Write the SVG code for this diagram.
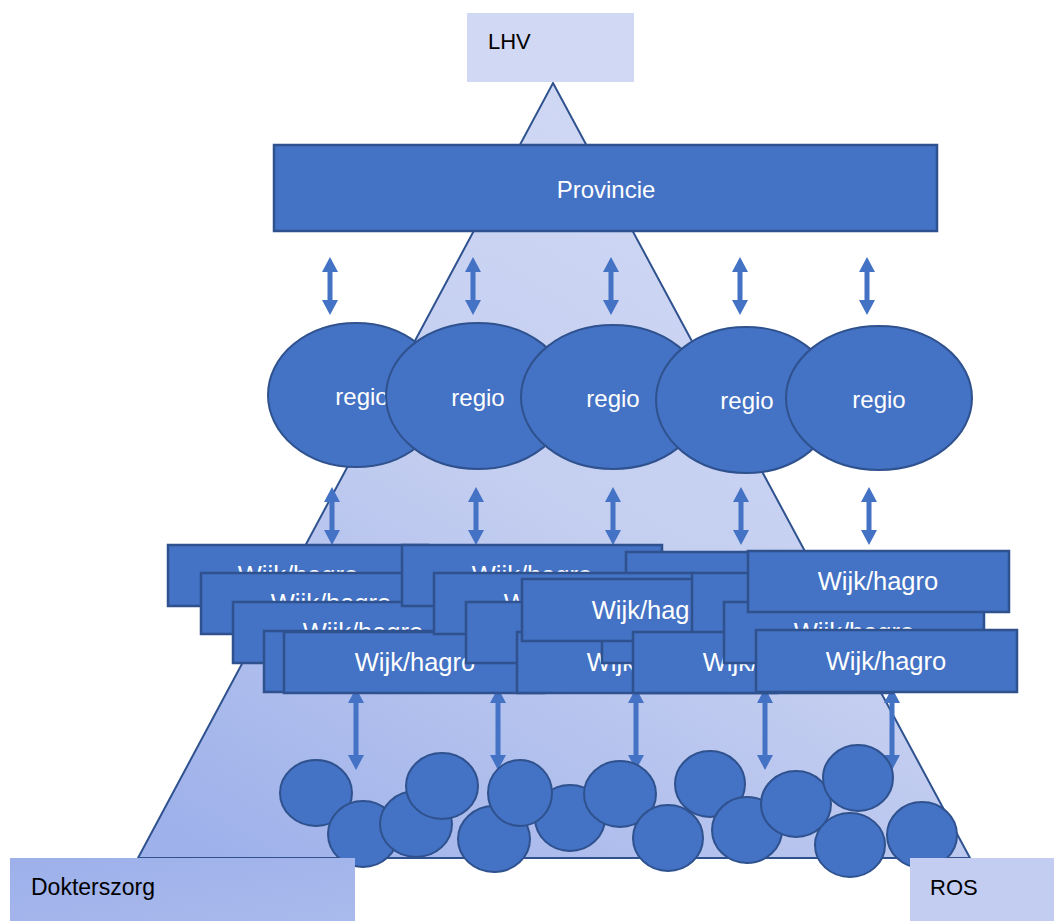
<svg xmlns="http://www.w3.org/2000/svg" width="1054" height="921" viewBox="0 0 1054 921">
<style>
.box{fill:#4472c4;stroke:#2f528f;stroke-width:2.5}
.ell{fill:#4472c4;stroke:#2f528f;stroke-width:2}
.wt{font-family:"Liberation Sans",Arial,sans-serif;font-size:24px;fill:#ffffff;text-anchor:middle}
.wk{font-size:25.5px}
.lt{font-family:"Liberation Sans",Arial,sans-serif;font-size:22px;fill:#000000}
.arr{fill:#4472c4}
</style>
<defs>
<linearGradient id="tri" x1="0.75" y1="0" x2="0.1" y2="1">
<stop offset="0" stop-color="#d2daf4"/>
<stop offset="0.5" stop-color="#c4cef0"/>
<stop offset="1" stop-color="#9eb1ea"/>
</linearGradient>
<linearGradient id="dok" x1="0" y1="0" x2="1" y2="1">
<stop offset="0" stop-color="#9db0ea"/>
<stop offset="1" stop-color="#a9baec"/>
</linearGradient>
<path id="a58" d="M0,0 L8,15 L2.5,15 L2.5,43 L8,43 L0,58 L-8,43 L-2.5,43 L-2.5,15 L-8,15 Z"/>
<path id="a82" d="M0,0 L8,15 L2.5,15 L2.5,67 L8,67 L0,82 L-8,67 L-2.5,67 L-2.5,15 L-8,15 Z"/>
</defs>

<g id="pyramid">
<polygon points="553,83 970,858 138,858" fill="url(#tri)" stroke="#2f528f" stroke-width="2"/>
</g>

<g id="lhv">
<rect x="467" y="13" width="167" height="69" fill="#d0d8f3"/>
<text class="lt" x="488" y="49">LHV</text>
</g>

<g id="provincie">
<rect class="box" x="274" y="145" width="663" height="86"/>
<text class="wt" x="606" y="198">Provincie</text>
</g>

<g id="connectors" class="arr">
<use href="#a58" x="330" y="257"/>
<use href="#a58" x="473" y="257"/>
<use href="#a58" x="611" y="257"/>
<use href="#a58" x="740" y="257"/>
<use href="#a58" x="867" y="257"/>
<use href="#a58" x="332" y="487"/>
<use href="#a58" x="476" y="487"/>
<use href="#a58" x="613" y="487"/>
<use href="#a58" x="741" y="487"/>
<use href="#a58" x="869" y="487"/>
<use href="#a82" x="356" y="688"/>
<use href="#a82" x="498" y="688"/>
<use href="#a82" x="636" y="688"/>
<use href="#a82" x="765" y="688"/>
<use href="#a82" x="892" y="688"/>
</g>

<g id="regio1"><ellipse class="ell" cx="356" cy="395" rx="88" ry="72"/><text class="wt" x="362" y="405">regio</text></g>
<g id="regio2"><ellipse class="ell" cx="478" cy="396" rx="92" ry="73"/><text class="wt" x="478" y="406">regio</text></g>
<g id="regio3"><ellipse class="ell" cx="613" cy="397" rx="92" ry="72"/><text class="wt" x="613" y="407">regio</text></g>
<g id="regio4"><ellipse class="ell" cx="746" cy="400" rx="90" ry="73"/><text class="wt" x="747" y="409">regio</text></g>
<g id="regio5"><ellipse class="ell" cx="879" cy="398" rx="93" ry="72"/><text class="wt" x="879" y="408">regio</text></g>

<g id="wijk-a1"><rect class="box" x="168" y="545" width="260" height="61"/><text class="wt wk" x="298" y="584">Wijk/hagro</text></g>
<g id="wijk-a2"><rect class="box" x="201" y="573" width="260" height="61"/><text class="wt wk" x="331" y="612">Wijk/hagro</text></g>
<g id="wijk-a3"><rect class="box" x="233" y="602" width="260" height="61"/><text class="wt wk" x="363" y="641">Wijk/hagro</text></g>
<g id="wijk-a4"><rect class="box" x="264" y="631" width="260" height="61"/><text class="wt wk" x="394" y="670">Wijk/hagro</text></g>
<g id="wijk-a5"><rect class="box" x="284" y="632" width="260" height="61"/><text class="wt wk" x="415" y="671">Wijk/hagro</text></g>
<g id="wijk-b1"><rect class="box" x="402" y="545" width="260" height="61"/><text class="wt wk" x="532" y="584">Wijk/hagro</text></g>
<g id="wijk-c1"><rect class="box" x="626" y="552" width="260" height="61"/><text class="wt wk" x="756" y="591">Wijk/hagro</text></g>
<g id="wijk-b2"><rect class="box" x="434" y="573" width="260" height="61"/><text class="wt wk" x="564" y="612">Wijk/hagro</text></g>
<g id="wijk-b3"><rect class="box" x="466" y="602" width="260" height="61"/><text class="wt wk" x="596" y="641">Wijk/hagro</text></g>
<g id="wijk-b4"><rect class="box" x="517" y="632" width="260" height="61"/><text class="wt wk" x="647" y="671">Wijk/hagro</text></g>
<g id="wijk-x"><rect class="box" x="602" y="602" width="260" height="61"/><text class="wt wk" x="732" y="641">Wijk/hagro</text></g>
<g id="wijk-b5"><rect class="box" x="522" y="579" width="260" height="62"/><text class="wt wk" x="652" y="619">Wijk/hagro</text></g>
<g id="wijk-c2"><rect class="box" x="692" y="573" width="260" height="61"/><text class="wt wk" x="822" y="612">Wijk/hagro</text></g>
<g id="wijk-c3"><rect class="box" x="633" y="632" width="260" height="61"/><text class="wt wk" x="763" y="671">Wijk/hagro</text></g>
<g id="wijk-d3"><rect class="box" x="724" y="602" width="260" height="61"/><text class="wt wk" x="854" y="641">Wijk/hagro</text></g>
<g id="wijk-d1"><rect class="box" x="748" y="551" width="261" height="61"/><text class="wt wk" x="878" y="590">Wijk/hagro</text></g>
<g id="wijk-d5"><rect class="box" x="756" y="630" width="261" height="62"/><text class="wt wk" x="886" y="670">Wijk/hagro</text></g>

<g id="praktijken">
<ellipse class="ell" cx="316" cy="793" rx="36" ry="33"/>
<ellipse class="ell" cx="363" cy="834" rx="35" ry="33"/>
<ellipse class="ell" cx="416" cy="824" rx="36" ry="33"/>
<ellipse class="ell" cx="442" cy="786" rx="36" ry="33"/>
<ellipse class="ell" cx="494" cy="839" rx="36" ry="33"/>
<ellipse class="ell" cx="570" cy="818" rx="35" ry="33"/>
<ellipse class="ell" cx="520" cy="793" rx="32" ry="33"/>
<ellipse class="ell" cx="620" cy="794" rx="36" ry="33"/>
<ellipse class="ell" cx="668" cy="838" rx="35" ry="33"/>
<ellipse class="ell" cx="710" cy="784" rx="35" ry="33"/>
<ellipse class="ell" cx="747" cy="830" rx="35" ry="33"/>
<ellipse class="ell" cx="796" cy="804" rx="35" ry="33"/>
<ellipse class="ell" cx="858" cy="778" rx="35" ry="33"/>
<ellipse class="ell" cx="850" cy="845" rx="35" ry="32"/>
<ellipse class="ell" cx="922" cy="835" rx="35" ry="33"/>
</g>

<g id="dokterszorg">
<rect x="10" y="858" width="345" height="63" fill="url(#dok)"/>
<text class="lt" x="31" y="895" style="font-size:23px">Dokterszorg</text>
</g>

<g id="ros">
<rect x="910" y="858" width="144" height="63" fill="#c3cdf1"/>
<text class="lt" x="930" y="895">ROS</text>
</g>
</svg>
